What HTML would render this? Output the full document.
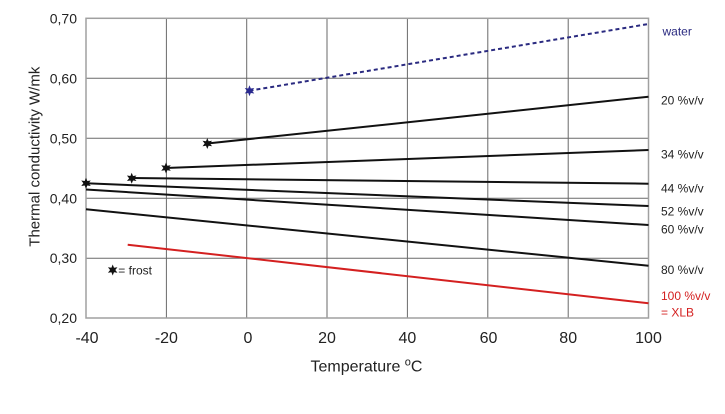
<!DOCTYPE html>
<html><head><meta charset="utf-8"><style>
html,body{margin:0;padding:0;background:#fff;}
svg{display:block;font-family:"Liberation Sans",Arial,sans-serif;}
</style></head><body>
<svg width="725" height="414" viewBox="0 0 725 414" xmlns="http://www.w3.org/2000/svg">
<defs>
<path id="st" d="M0,-5.5 L1.3,-2.25 L4.76,-2.75 L2.6,0 L4.76,2.75 L1.3,2.25 L0,5.5 L-1.3,2.25 L-4.76,2.75 L-2.6,0 L-4.76,-2.75 L-1.3,-2.25 Z"/>
</defs>
<rect width="725" height="414" fill="#fff"/>
<!-- grid -->
<g stroke="#6a6a6a" stroke-width="1">
<line x1="166.4" y1="18.3" x2="166.4" y2="318"/>
<line x1="246.7" y1="18.3" x2="246.7" y2="318"/>
<line x1="327" y1="18.3" x2="327" y2="318"/>
<line x1="407.4" y1="18.3" x2="407.4" y2="318"/>
<line x1="487.8" y1="18.3" x2="487.8" y2="318"/>
<line x1="568.2" y1="18.3" x2="568.2" y2="318"/>
<line x1="86" y1="78.3" x2="648.5" y2="78.3"/>
<line x1="86" y1="138.3" x2="648.5" y2="138.3"/>
<line x1="86" y1="198.3" x2="648.5" y2="198.3"/>
<line x1="86" y1="258.2" x2="648.5" y2="258.2"/>
</g>
<rect x="86" y="18.3" width="562.5" height="299.7" fill="none" stroke="#a0a0a0" stroke-width="1.5"/>
<!-- series -->
<line x1="249.5" y1="90.7" x2="648.5" y2="24" stroke="#2a2a80" stroke-width="2" stroke-dasharray="4,3"/>
<g stroke="#111" stroke-width="2">
<line x1="207.3" y1="143.5" x2="648.5" y2="96.7"/>
<line x1="166" y1="168" x2="648.5" y2="150"/>
<line x1="131.7" y1="178" x2="648.5" y2="183.7"/>
<line x1="86" y1="183.3" x2="648.5" y2="206"/>
<line x1="86" y1="189.5" x2="648.5" y2="225"/>
<line x1="86" y1="209.3" x2="648.5" y2="265.7"/>
</g>
<line x1="127.7" y1="244.7" x2="648.5" y2="303.3" stroke="#d42020" stroke-width="2"/>
<!-- stars -->
<use href="#st" x="249.5" y="90.7" fill="#2a2a90"/>
<g fill="#111">
<use href="#st" x="207.3" y="143.5"/>
<use href="#st" x="166" y="168"/>
<use href="#st" x="131.7" y="178.3"/>
<use href="#st" x="86" y="183.3"/>
<use href="#st" x="112.7" y="270"/>
</g>
<text x="118.3" y="274.5" font-size="12" fill="#222">= frost</text>
<!-- y ticks -->
<g font-size="14" fill="#222" text-anchor="end">
<text x="77" y="23.3">0,70</text>
<text x="77" y="83.3">0,60</text>
<text x="77" y="143.3">0,50</text>
<text x="77" y="203.3">0,40</text>
<text x="77" y="263.2">0,30</text>
<text x="77" y="323">0,20</text>
</g>
<!-- x ticks -->
<g font-size="16" fill="#222" text-anchor="middle">
<text x="87" y="343">-40</text>
<text x="166.4" y="343">-20</text>
<text x="248" y="343">0</text>
<text x="327" y="343">20</text>
<text x="407.4" y="343">40</text>
<text x="488.5" y="343">60</text>
<text x="568.2" y="343">80</text>
<text x="648.5" y="343">100</text>
</g>
<text x="366.5" y="371.5" font-size="16" fill="#222" text-anchor="middle">Temperature <tspan font-size="11" dy="-6">o</tspan><tspan dy="6">C</tspan></text>
<text transform="translate(39.5,156.7) rotate(-90)" font-size="15" fill="#222" text-anchor="middle">Thermal conductivity W/mk</text>
<!-- right labels -->
<g font-size="12" fill="#222">
<text x="662.5" y="35.5" fill="#2a2a80">water</text>
<text x="661" y="104.5">20 %v/v</text>
<text x="661" y="158.5">34 %v/v</text>
<text x="661" y="192.5">44 %v/v</text>
<text x="661" y="215.5">52 %v/v</text>
<text x="661" y="233.5">60 %v/v</text>
<text x="661" y="274">80 %v/v</text>
<text x="661" y="300" fill="#d42020">100 %v/v</text>
<text x="661" y="316.5" fill="#d42020">= XLB</text>
</g>
</svg>
</body></html>
